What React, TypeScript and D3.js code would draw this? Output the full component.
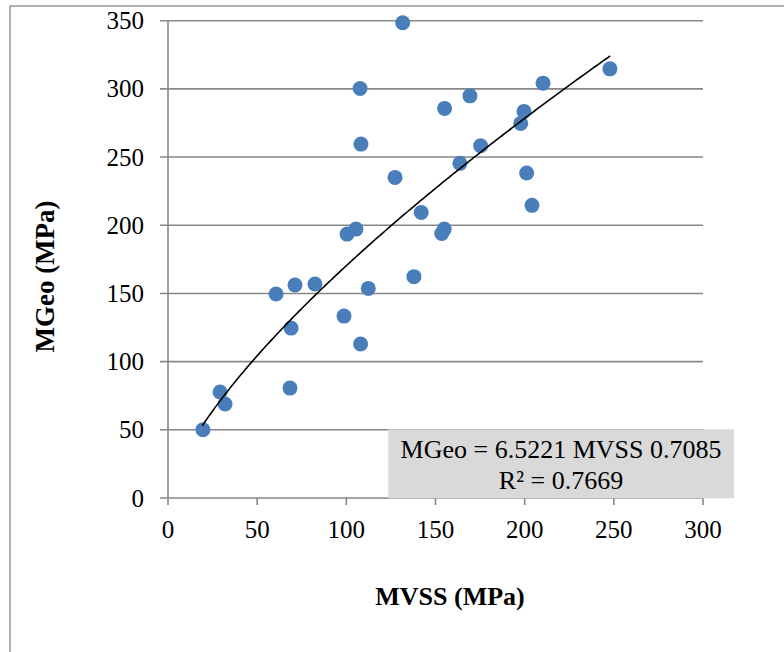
import React from "react";
import * as d3 from "d3";

const mvss: number[] = [19.6, 29.2, 32.0, 68.4, 69.0, 60.6, 71.2, 82.4, 98.7, 100.4, 105.4, 107.7, 108.2, 112.3, 108.0, 127.3, 131.6, 142.0, 153.5, 154.9, 137.9, 155.1, 169.3, 163.7, 175.3, 197.8, 199.6, 201.1, 204.1, 210.3, 247.8];
const mgeo: number[] = [50.0, 77.7, 68.9, 80.6, 124.6, 149.6, 156.2, 156.9, 133.4, 193.5, 197.2, 300.3, 259.5, 153.7, 112.9, 235.1, 348.5, 209.4, 194.0, 197.2, 162.3, 285.7, 294.9, 245.4, 258.3, 274.7, 283.5, 238.3, 214.6, 304.2, 314.7];
const xTicks: number[] = [0, 50, 100, 150, 200, 250, 300];
const yTicks: number[] = [0, 50, 100, 150, 200, 250, 300, 350];
const trendCoef = 6.5221;
const trendExp = 0.7085;
const trendRange: number[] = [19.2, 248];
const eqLine1 = "MGeo = 6.5221 MVSS 0.7085";
const eqLine2 = "R² = 0.7669";
const xTitle = "MVSS (MPa)";
const yTitle = "MGeo (MPa)";

export default function App() {
  const W = 784, H = 652;
  const x = d3.scaleLinear().domain([0, 300]).range([168, 703]);
  const y = d3.scaleLinear().domain([0, 350]).range([498, 20.7]);
  const serif = "'Liberation Serif', 'Times New Roman', serif";
  const gridColor = "#878787";

  const trendPts: [number, number][] = d3
    .range(0, 201)
    .map((i) => trendRange[0] + ((trendRange[1] - trendRange[0]) * i) / 200)
    .map((v) => [v, trendCoef * Math.pow(v, trendExp)]);
  const line = d3
    .line<[number, number]>()
    .x((d) => x(d[0]))
    .y((d) => y(d[1]));

  return (
    <svg width={W} height={H} style={{ position: "fixed", left: 0, top: 0, background: "#fff" }}>
      <rect x={0} y={0} width={W} height={H} fill="#fff" />
      {/* outer frame */}
      <path d={`M10,${H} L10,6 L${W},6`} fill="none" stroke="#999" strokeWidth={1.5} />
      {/* gridlines */}
      {yTicks.map((t) => (
        <line key={"g" + t} x1={160} x2={703} y1={y(t)} y2={y(t)} stroke={gridColor} strokeWidth={1.6} />
      ))}
      {/* y axis */}
      <line x1={168} x2={168} y1={y(350)} y2={y(0)} stroke={gridColor} strokeWidth={1.6} />
      {/* x ticks */}
      {xTicks.map((t) => (
        <line key={"xt" + t} x1={x(t)} x2={x(t)} y1={y(0)} y2={y(0) + 7} stroke={gridColor} strokeWidth={1.6} />
      ))}
      {/* y tick labels */}
      {yTicks.map((t) => (
        <text key={"yl" + t} x={144} y={y(t) + 8.5} textAnchor="end" fontFamily={serif} fontSize={25} fill="#000">
          {t}
        </text>
      ))}
      {/* x tick labels */}
      {xTicks.map((t) => (
        <text key={"xl" + t} x={x(t)} y={538} textAnchor="middle" fontFamily={serif} fontSize={25} fill="#000">
          {t}
        </text>
      ))}
      {/* points */}
      {mvss.map((v, i) => (
        <circle key={"p" + i} cx={x(v)} cy={y(mgeo[i])} r={7.5} fill="#4a7ebb" />
      ))}
      {/* trendline */}
      <path d={line(trendPts) || ""} fill="none" stroke="#000" strokeWidth={1.6} />
      {/* equation box */}
      <rect x={388.3} y={429.3} width={345.7} height={69} fill="#d9d9d9" />
      <text x={561} y={457.5} textAnchor="middle" fontFamily={serif} fontSize={26} fill="#000">
        {eqLine1}
      </text>
      <text x={561} y={488.5} textAnchor="middle" fontFamily={serif} fontSize={26} fill="#000">
        {eqLine2}
      </text>
      {/* axis titles */}
      <text x={450} y={605} textAnchor="middle" fontFamily={serif} fontSize={26} fontWeight="bold" fill="#000">
        {xTitle}
      </text>
      <text
        transform={`translate(54,276.5) rotate(-90)`}
        textAnchor="middle"
        fontFamily={serif}
        fontSize={27}
        fontWeight="bold"
        fill="#000"
      >
        {yTitle}
      </text>
    </svg>
  );
}
